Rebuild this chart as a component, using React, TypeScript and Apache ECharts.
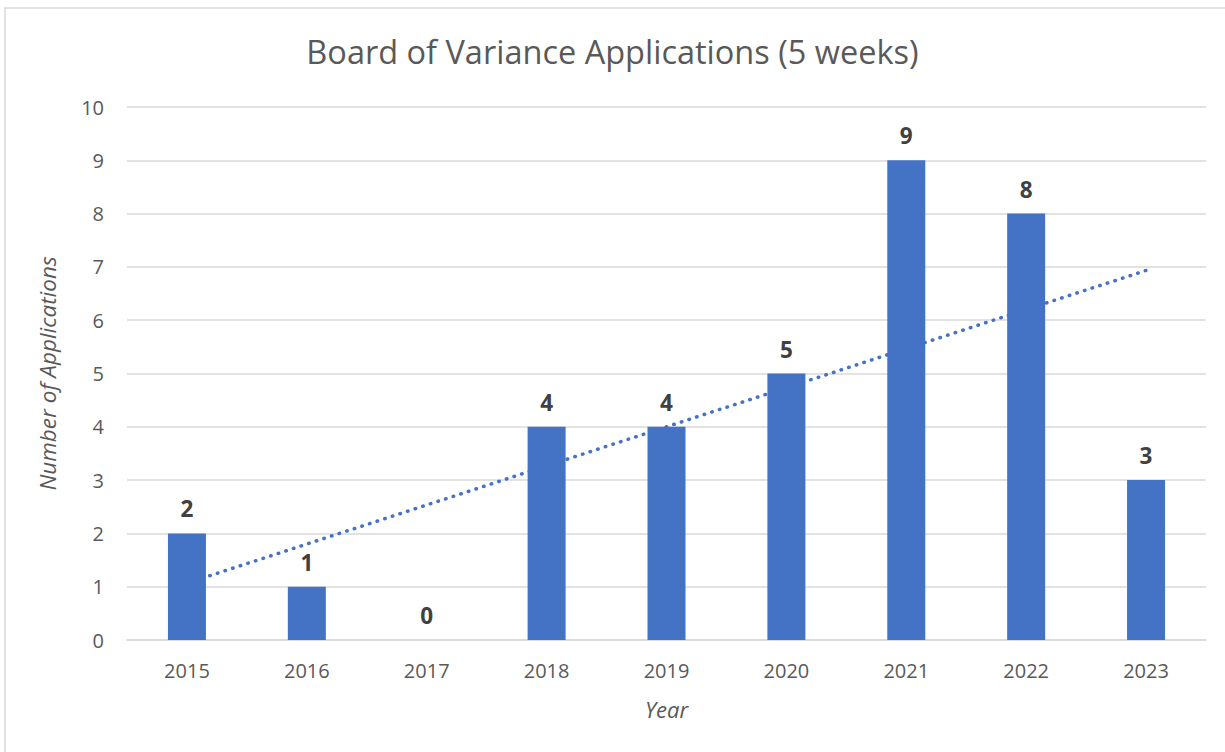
import React, { useEffect, useRef } from "react";
import * as echarts from "echarts";

const years = ["2015", "2016", "2017", "2018", "2019", "2020", "2021", "2022", "2023"];
const applications = [2, 1, 0, 4, 4, 5, 9, 8, 3];
const yTicks = { min: 0, max: 10, interval: 1 };

function linearTrend(vals: number[]): number[] {
  const n = vals.length;
  const xs = vals.map((_, i) => i + 1);
  const mx = xs.reduce((a, b) => a + b, 0) / n;
  const my = vals.reduce((a, b) => a + b, 0) / n;
  let sxy = 0, sxx = 0;
  for (let i = 0; i < n; i++) {
    sxy += (xs[i] - mx) * (vals[i] - my);
    sxx += (xs[i] - mx) * (xs[i] - mx);
  }
  const slope = sxy / sxx;
  return xs.map((x) => +(my + slope * (x - mx)).toFixed(4));
}

const FONT = "'Open Sans', 'Liberation Sans', sans-serif";

export default function App() {
  const ref = useRef<HTMLDivElement>(null);
  useEffect(() => {
    if (!ref.current) return;
    const chart = echarts.init(ref.current, null, { renderer: "svg" });
    chart.setOption({
      animation: false,
      backgroundColor: "#ffffff",
      title: {
        text: "Board of Variance Applications (5 weeks)",
        left: "center",
        top: 30,
        textStyle: { fontFamily: FONT, fontSize: 32.5, fontWeight: "normal", color: "#595959" },
      },
      graphic: [
        {
          type: "rect",
          shape: { x: 5, y: 8, width: 1240, height: 760 },
          style: { fill: "none", stroke: "#d9d9d9", lineWidth: 1.5 },
          silent: true,
        },
      ],
      grid: { left: 127, right: 19, top: 107, bottom: 112 },
      xAxis: {
        type: "category",
        data: years,
        name: "Year",
        nameLocation: "middle",
        nameGap: 58,
        nameTextStyle: { fontFamily: FONT, fontSize: 22, fontStyle: "italic", color: "#595959" },
        axisLine: { lineStyle: { color: "#d9d9d9", width: 1.5 } },
        axisTick: { show: false },
        axisLabel: { fontFamily: FONT, fontSize: 20, color: "#595959", margin: 20 },
      },
      yAxis: {
        type: "value",
        min: yTicks.min,
        max: yTicks.max,
        interval: yTicks.interval,
        name: "Number of Applications",
        nameLocation: "middle",
        nameGap: 68,
        nameTextStyle: { fontFamily: FONT, fontSize: 22.5, fontStyle: "italic", color: "#595959" },
        axisLine: { show: false },
        axisTick: { show: false },
        axisLabel: { fontFamily: FONT, fontSize: 20, color: "#595959", margin: 23 },
        splitLine: { lineStyle: { color: "#d9d9d9", width: 1.5 } },
      },
      series: [
        {
          type: "line",
          data: linearTrend(applications),
          z: 1,
          symbol: "none",
          lineStyle: { color: "#4472C4", width: 3.5, type: [0.5, 7.5], cap: "round" },
          silent: true,
        },
        {
          type: "bar",
          data: applications,
          z: 2,
          barWidth: 38,
          itemStyle: { color: "#4472C4" },
          label: {
            show: true,
            position: "top",
            distance: 13,
            fontFamily: FONT,
            fontSize: 22.5,
            fontWeight: "bold",
            color: "#404040",
          },
        },
      ],
    });
    return () => chart.dispose();
  }, []);
  return (
    <div
      ref={ref}
      style={{ position: "absolute", left: 0, top: 0, width: 1225, height: 752 }}
    />
  );
}
